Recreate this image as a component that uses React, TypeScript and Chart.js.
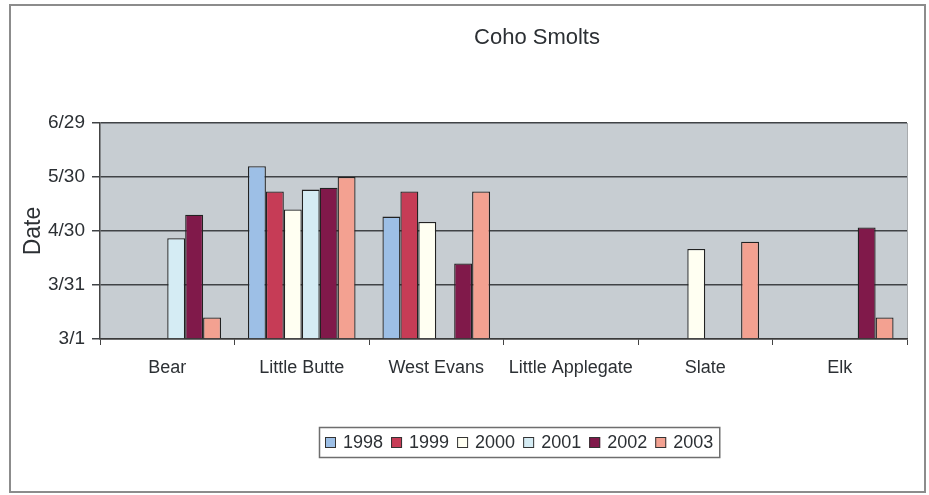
import { useEffect, useRef } from "react";
import { Chart, registerables } from "chart.js";

Chart.register(...registerables);

const chartTitle = "Coho Smolts";
const yAxisTitle = "Date";
const categories = ["Bear", "Little Butte", "West Evans", "Little Applegate", "Slate", "Elk"];
const years = ["1998", "1999", "2000", "2001", "2002", "2003"];
const yTickLabels = ["3/1", "3/31", "4/30", "5/30", "6/29"];

const values1998 = [null, "6/5", "5/8", null, null, null];
const values1999 = [null, "5/22", "5/22", null, null, null];
const values2000 = [null, "5/12", "5/5", null, "4/20", null];
const values2001 = ["4/26", "5/23", null, null, null, null];
const values2002 = ["5/9", "5/24", "4/12", null, null, "5/2"];
const values2003 = ["3/13", "5/30", "5/22", null, "4/24", "3/13"];

const seriesValues = [values1998, values1999, values2000, values2001, values2002, values2003];
const seriesColors = ["#9dbfe6", "#c63c56", "#fffff2", "#d5ecf4", "#80194a", "#f3a191"];

const FONT = "'Liberation Sans', Arial, sans-serif";
const TEXT = "#2c3034";

const monthStart: Record<number, number> = { 3: 0, 4: 31, 5: 61, 6: 92 };
function dayOfSeason(s: string | null): number | null {
  if (!s) return null;
  const [m, d] = s.split("/").map(Number);
  return monthStart[m] + d - 1;
}

const plotBackground = {
  id: "plotBackground",
  beforeDraw(chart: any) {
    const { ctx, chartArea } = chart;
    ctx.save();
    ctx.fillStyle = "#c7cdd2";
    ctx.fillRect(chartArea.left, chartArea.top, chartArea.right - chartArea.left, chartArea.bottom - chartArea.top);
    ctx.strokeStyle = "#a8abae";
    ctx.lineWidth = 1;
    ctx.beginPath();
    ctx.moveTo(chartArea.right + 0.5, chartArea.top);
    ctx.lineTo(chartArea.right + 0.5, chartArea.bottom);
    ctx.stroke();
    ctx.restore();
  },
};

const titleAndLegend = {
  id: "titleAndLegend",
  afterDraw(chart: any) {
    const { ctx } = chart;
    ctx.save();
    // title
    ctx.font = `22px ${FONT}`;
    ctx.fillStyle = TEXT;
    ctx.textAlign = "center";
    ctx.textBaseline = "middle";
    ctx.fillText(chartTitle, 537, 38);

    // legend
    ctx.font = `18px ${FONT}`;
    const box = 11;
    const gapBoxText = 7;
    const gapItem = 8;
    const items = chart.data.datasets.map((ds: any) => ({
      label: ds.label,
      color: ds.backgroundColor,
      w: box + gapBoxText + ctx.measureText(ds.label).width,
    }));
    const inner = items.reduce((a: number, it: any) => a + it.w, 0) + gapItem * (items.length - 1);
    const padX = 6;
    const totalW = inner + padX * 2;
    const cx = 519;
    const left = Math.round(cx - totalW / 2);
    const top = 427;
    const h = 30;
    ctx.fillStyle = "#ffffff";
    ctx.fillRect(left, top, totalW, h);
    ctx.strokeStyle = "#6e6e6e";
    ctx.lineWidth = 1.5;
    ctx.strokeRect(left + 0.5, top + 0.5, totalW, h);
    let x = left + padX;
    const midY = top + h / 2 + 0.5;
    ctx.textAlign = "left";
    for (const it of items) {
      ctx.fillStyle = it.color;
      ctx.fillRect(x, midY - box / 2, box, box);
      ctx.strokeStyle = "#333";
      ctx.lineWidth = 1;
      ctx.strokeRect(x + 0.5, midY - box / 2 + 0.5, box - 1, box - 1);
      ctx.fillStyle = TEXT;
      ctx.fillText(it.label, x + box + gapBoxText, midY + 1);
      x += it.w + gapItem;
    }
    ctx.restore();
  },
};

export default function App() {
  const ref = useRef<HTMLCanvasElement | null>(null);

  useEffect(() => {
    if (!ref.current) return;
    const chart = new Chart(ref.current, {
      type: "bar",
      data: {
        labels: categories,
        datasets: years.map((y, i) => ({
          label: y,
          data: seriesValues[i].map(dayOfSeason),
          backgroundColor: seriesColors[i],
          borderColor: "#222",
          borderWidth: 1.3,
          barPercentage: 1,
          categoryPercentage: 0.8,
        })),
      },
      options: {
        responsive: false,
        animation: false,
        layout: { padding: { top: 123, right: 22, bottom: 116, left: 0 } },
        plugins: {
          legend: { display: false },
          title: { display: false },
          tooltip: { enabled: false },
        },
        scales: {
          x: {
            grid: {
              display: true,
              drawOnChartArea: false,
              drawTicks: true,
              tickLength: 6,
              color: "#444",
              offset: true,
            },
            border: { display: true, color: "#3a3a3a", width: 1.5 },
            ticks: {
              color: TEXT,
              font: { family: FONT, size: 18 },
              padding: 12,
              maxRotation: 0,
              autoSkip: false,
            },
            afterFit(scale: any) {
              scale.height = 40;
            },
          },
          y: {
            min: 0,
            max: 120,
            grid: { color: "#404346", lineWidth: 1.5, drawTicks: true, tickLength: 8 },
            border: { display: true, color: "#444", width: 1.5 },
            ticks: {
              stepSize: 30,
              color: TEXT,
              font: { family: FONT, size: 19 },
              padding: 7,
              callback: (v: any) => yTickLabels[Math.round(Number(v) / 30)] ?? "",
            },
            title: {
              display: true,
              text: yAxisTitle,
              color: TEXT,
              font: { family: FONT, size: 23 },
              padding: { top: 20, bottom: 0 },
            },
            afterFit(scale: any) {
              scale.width = 100;
            },
          },
        },
      },
      plugins: [plotBackground, titleAndLegend],
    });
    return () => chart.destroy();
  }, []);

  return (
    <div style={{ position: "fixed", left: 0, top: 0, width: 929, height: 495, background: "#fff" }}>
      <div
        style={{
          position: "absolute",
          left: 9,
          top: 4,
          width: 913,
          height: 485,
          border: "2px solid #8c8c8c",
          boxSizing: "content-box",
        }}
      />
      <canvas ref={ref} width={929} height={495} style={{ position: "absolute", left: 0, top: 0 }} />
    </div>
  );
}
